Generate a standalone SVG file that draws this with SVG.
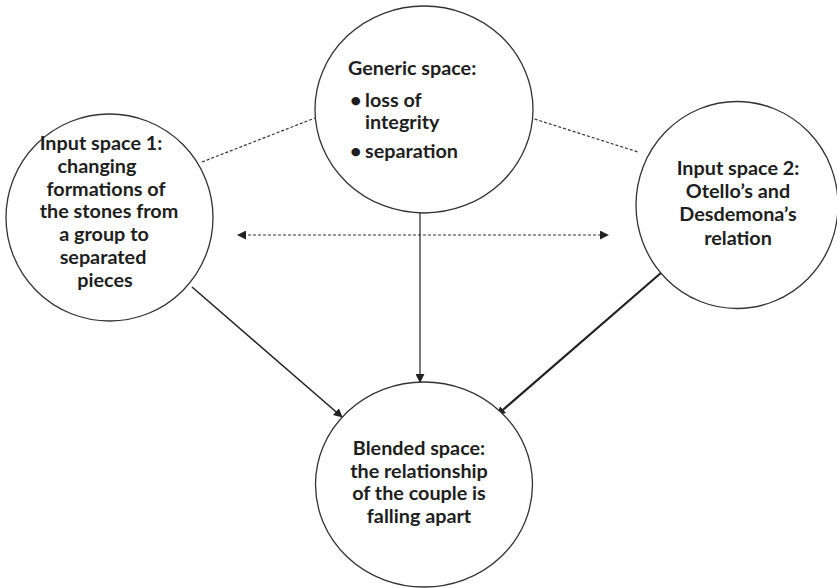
<svg xmlns="http://www.w3.org/2000/svg" width="837" height="588" viewBox="0 0 837 588">
<style>
.node{fill:#fff;stroke:#333;stroke-width:1.3}
.t{font-family:Lato,"Open Sans","Liberation Sans",sans-serif;font-weight:bold;font-size:19.8px;fill:#1e1e1e}
.c{text-anchor:middle}
.dash{stroke:#333;stroke-width:1.2;stroke-dasharray:3,2;fill:none}
.solid{stroke:#222;fill:none}
</style>
<defs>
<marker id="ah" viewBox="0 0 10 10" refX="9" refY="5" markerWidth="9" markerHeight="9" markerUnits="userSpaceOnUse" orient="auto-start-reverse">
<path d="M0,0 L10,5 L0,10 z" fill="#222"/>
</marker>
</defs>
<g id="connectors">
<line class="dash" x1="202" y1="162" x2="315" y2="118"/>
<line class="dash" x1="525" y1="116" x2="638" y2="152"/>
<line class="dash" x1="238" y1="235" x2="608" y2="235" marker-start="url(#ah)" marker-end="url(#ah)"/>
<line class="solid" stroke-width="1.2" x1="420" y1="213" x2="420" y2="382" marker-end="url(#ah)"/>
<line class="solid" stroke-width="1.5" x1="192" y1="287" x2="342" y2="417" marker-end="url(#ah)"/>
<line class="solid" stroke-width="2.2" x1="662" y1="272" x2="497" y2="415" marker-end="url(#ah)"/>
</g>
<g id="generic">
<ellipse class="node" cx="424" cy="109.5" rx="109" ry="103.5"/>
<text class="t" x="348" y="75">Generic space:</text>
<text class="t" x="350" y="107" font-size="15">•</text>
<text class="t" x="365" y="107">loss of</text>
<text class="t" x="365" y="129">integrity</text>
<text class="t" x="350" y="158" font-size="15">•</text>
<text class="t" x="365" y="158">separation</text>
</g>
<g id="input1">
<ellipse class="node" cx="109.5" cy="217.5" rx="103.5" ry="103.5"/>
<text class="t c" x="101" y="150">Input space 1:</text>
<text class="t c" x="97" y="173">changing</text>
<text class="t c" x="106" y="196">formations of</text>
<text class="t c" x="109" y="218">the stones from</text>
<text class="t c" x="104" y="241">a group to</text>
<text class="t c" x="103" y="264">separated</text>
<text class="t c" x="105" y="287">pieces</text>
</g>
<g id="input2">
<ellipse class="node" cx="737" cy="205" rx="101" ry="103.5"/>
<text class="t c" x="738" y="175">Input space 2:</text>
<text class="t c" x="738" y="198">Otello’s and</text>
<text class="t c" x="738" y="221">Desdemona’s</text>
<text class="t c" x="738" y="245">relation</text>
</g>
<g id="blended">
<ellipse class="node" cx="424" cy="484.5" rx="108.5" ry="102.5"/>
<text class="t c" x="419" y="455">Blended space:</text>
<text class="t c" x="419" y="478">the relationship</text>
<text class="t c" x="419" y="500">of the couple is</text>
<text class="t c" x="419" y="523">falling apart</text>
</g>
</svg>
